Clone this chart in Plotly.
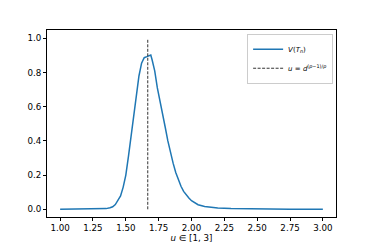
import plotly.graph_objects as go

# curve V(T_n)
u_vals = [1.00, 1.10, 1.20, 1.30, 1.35, 1.38, 1.40, 1.42, 1.44, 1.46, 1.48, 1.50,
          1.52, 1.54, 1.56, 1.58, 1.60, 1.62, 1.64, 1.66, 1.68, 1.69, 1.70, 1.72,
          1.74, 1.76, 1.78, 1.80, 1.82, 1.84, 1.86, 1.88, 1.90, 1.92, 1.94, 1.96,
          1.98, 2.00, 2.05, 2.10, 2.15, 2.20, 2.30, 2.50, 2.75, 3.00]
v_vals = [0.000, 0.000, 0.000, 0.001, 0.004, 0.009, 0.015, 0.028, 0.050, 0.078, 0.130, 0.200,
          0.310, 0.420, 0.540, 0.650, 0.780, 0.855, 0.887, 0.893, 0.898, 0.903, 0.875, 0.810,
          0.710, 0.640, 0.560, 0.480, 0.400, 0.330, 0.270, 0.215, 0.170, 0.135, 0.105, 0.083,
          0.066, 0.050, 0.027, 0.017, 0.012, 0.008, 0.004, 0.001, 0.000, 0.000]

# reference threshold u = d^((p-1)/p)
u_star = [1.667, 1.667]
u_star_y = [0.0, 1.0]

x_ticks = [1.00, 1.25, 1.50, 1.75, 2.00, 2.25, 2.50, 2.75, 3.00]
y_ticks = [0.0, 0.2, 0.4, 0.6, 0.8, 1.0]

FONT = "DejaVu Sans"

fig = go.Figure()
fig.add_trace(go.Scatter(
    x=u_vals, y=v_vals, mode="lines",
    line=dict(color="#1f77b4", width=1.5),
    name="<i>V</i>(<i>T<sub>n</sub></i>)",
))
fig.add_trace(go.Scatter(
    x=u_star, y=u_star_y, mode="lines",
    line=dict(color="#333333", width=1, dash="3px,1.5px"),
    name="<i>u</i> = <i>d</i><sup>(<i>p</i>−1)/<i>p</i></sup>",
))

axis_common = dict(
    showline=True, linecolor="black", linewidth=1, mirror=True,
    ticks="outside", ticklen=3, tickwidth=1, tickcolor="black",
    showgrid=False, zeroline=False, automargin=False,
    tickfont=dict(family=FONT, size=8.7, color="black"),
)

fig.update_layout(
    width=374, height=249,
    margin=dict(l=47, r=38, t=30, b=32),
    paper_bgcolor="white", plot_bgcolor="white",
    font=dict(family=FONT, color="black"),
    xaxis=dict(range=[0.9, 3.1], tickvals=x_ticks,
               ticktext=[f"{t:.2f}" for t in x_ticks],
               title=dict(text="<i>u</i> ∈ [1, 3]", font=dict(family=FONT, size=8.7), standoff=0),
               **axis_common),
    yaxis=dict(range=[-0.045, 1.049], tickvals=y_ticks,
               ticktext=[f"{t:.1f}" for t in y_ticks],
               **axis_common),
    legend=dict(x=0.99, y=0.98, xanchor="right", yanchor="top",
                bgcolor="rgba(255,255,255,0.9)", bordercolor="#cccccc", borderwidth=1,
                font=dict(family=FONT, size=7), itemwidth=30, tracegroupgap=0),
    showlegend=True,
)

fig.write_html("out.html", config={"displayModeBar": False},
               post_script="document.body.style.margin='0';")
